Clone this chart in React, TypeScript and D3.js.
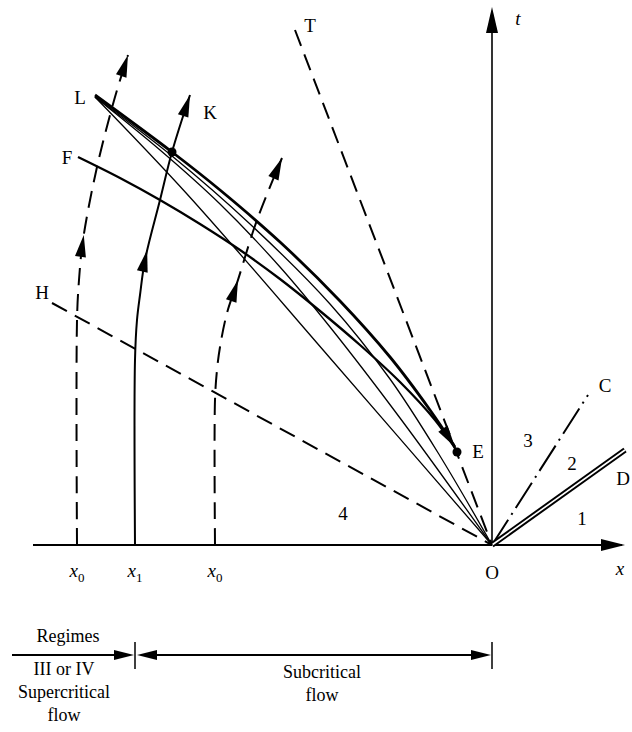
import React, { useEffect, useRef } from 'react';
import * as d3 from 'd3';

const WIDTH = 632;
const HEIGHT = 732;

type Pt = [number, number];

// particle paths (x, t), O at the origin
const pathX0Left: Pt[] = [[-4.15, 0], [-4.15, 2.25], [-4.13, 2.65], [-4.09, 3.05], [-3.95, 3.78], [-3.77, 4.48], [-3.64, 4.9]];
const pathX1: Pt[] = [[-3.57, 0], [-3.57, 1.85], [-3.55, 2.25], [-3.52, 2.5], [-3.47, 2.85], [-3.32, 3.45], [-3.2, 3.93], [-3.02, 4.5]];
const pathX0Right: Pt[] = [[-2.77, 0], [-2.77, 1.45], [-2.75, 1.75], [-2.72, 1.98], [-2.65, 2.32], [-2.55, 2.62], [-2.35, 3.25], [-2.1, 3.87]];
// t at which the mid arrows sit
const midArrowT = [3.1, 2.95, 2.65];

// shock L -> E and curve F -> E
const shockLE: Pt[] = [[-3.97, 4.5], [-3.2, 3.93], [-2.72, 3.55], [-2.12, 3.03], [-1.52, 2.44], [-1.02, 1.88], [-0.62, 1.35], [-0.37, 0.98]];
const curveF: Pt[] = [[-4.14, 3.88], [-3.72, 3.67], [-3.32, 3.45], [-2.92, 3.21], [-2.52, 2.95], [-2.12, 2.66], [-1.72, 2.34], [-1.32, 2.0], [-0.92, 1.63], [-0.57, 1.25], [-0.37, 0.97]];

// characteristics from L to O
const charA: Pt[] = [[-3.97, 4.48], [-3.2, 3.89], [-2.42, 3.21], [-1.62, 2.41], [-1.02, 1.66], [-0.52, 0.89], [0, 0]];
const charB: Pt[] = [[-3.97, 4.48], [-3.32, 3.95], [-2.72, 3.41], [-2.12, 2.78], [-1.62, 2.18], [-0.92, 1.27], [0, 0]];
const charC: Pt[] = [[-3.97, 4.48], [-3.05, 3.51], [-1.62, 1.87], [0, 0]];

// straight rays through O
const rayH: Pt[] = [[-4.4, 2.42], [0, 0]];
const rayT: Pt[] = [[-1.97, 5.15], [0, 0]];
const rayC: Pt[] = [[0, 0], [0.96, 1.5]];
const rayD: Pt[] = [[0, 0], [1.33, 0.95]];

const pointK: Pt = [-3.2, 3.93];
const pointE: Pt = [-0.35, 0.93];

const letters: { text: string; x: number; t: number; italic?: boolean }[] = [
  { text: 'L', x: -4.12, t: 4.48 },
  { text: 'F', x: -4.25, t: 3.88 },
  { text: 'H', x: -4.5, t: 2.53 },
  { text: 'K', x: -2.82, t: 4.33 },
  { text: 'T', x: -1.82, t: 5.2 },
  { text: 't', x: 0.26, t: 5.27, italic: true },
  { text: 'E', x: -0.14, t: 0.94 },
  { text: 'C', x: 1.13, t: 1.6 },
  { text: 'D', x: 1.31, t: 0.67 },
  { text: '3', x: 0.36, t: 1.05 },
  { text: '2', x: 0.8, t: 0.82 },
  { text: '1', x: 0.9, t: 0.27 },
  { text: '4', x: -1.49, t: 0.32 },
  { text: 'O', x: 0, t: -0.27 },
  { text: 'x', x: 1.28, t: -0.23, italic: true },
];
const startLabels: { sub: string; x: number }[] = [
  { sub: '0', x: -4.15 },
  { sub: '1', x: -3.57 },
  { sub: '0', x: -2.77 },
];

const FONT = '"Liberation Serif", "DejaVu Serif", serif';

function head(g: any, tip: Pt, from: Pt, len = 20, half = 5) {
  const dx = tip[0] - from[0];
  const dy = tip[1] - from[1];
  const d = Math.hypot(dx, dy) || 1;
  const ux = dx / d;
  const uy = dy / d;
  const bx = tip[0] - ux * len;
  const by = tip[1] - uy * len;
  g.append('path')
    .attr('d', `M${tip[0]},${tip[1]}L${bx - uy * half},${by + ux * half}L${bx + uy * half},${by - ux * half}Z`)
    .attr('fill', '#000');
}

function lengthAtY(node: SVGPathElement, py: number) {
  let lo = 0;
  let hi = node.getTotalLength();
  for (let i = 0; i < 40; i++) {
    const m = (lo + hi) / 2;
    if (node.getPointAtLength(m).y > py) lo = m;
    else hi = m;
  }
  return lo;
}

function headAt(g: any, node: SVGPathElement, s: number, len = 20, half = 5) {
  const p = node.getPointAtLength(s);
  const q = node.getPointAtLength(Math.max(0, s - 4));
  head(g, [p.x, p.y], [q.x, q.y], len, half);
}

export default function App() {
  const ref = useRef<SVGSVGElement>(null);

  useEffect(() => {
    const svg = d3.select(ref.current);
    svg.selectAll('*').remove();
    const x = d3.scaleLinear().domain([-4.6, 1.4]).range([32, 632]);
    const y = d3.scaleLinear().domain([0, 5.4]).range([545, 5]);
    const curve = d3.line<Pt>().x(d => x(d[0])).y(d => y(d[1])).curve(d3.curveCatmullRom.alpha(0.5));
    const straight = d3.line<Pt>().x(d => x(d[0])).y(d => y(d[1]));
    const g = svg.append('g');

    // axes
    g.append('line').attr('x1', x(-4.59)).attr('x2', x(1.3)).attr('y1', y(0)).attr('y2', y(0))
      .attr('stroke', '#000').attr('stroke-width', 2);
    head(g, [x(1.33), y(0)], [x(0), y(0)], 24, 6);
    g.append('line').attr('x1', x(0)).attr('x2', x(0)).attr('y1', y(0)).attr('y2', y(5.2))
      .attr('stroke', '#000').attr('stroke-width', 1.6);
    head(g, [x(0), y(5.38)], [x(0), y(0)], 26, 6);

    // dashed rays
    [rayH, rayT].forEach(r => {
      g.append('path').attr('d', straight(r)).attr('fill', 'none').attr('stroke', '#000')
        .attr('stroke-width', 2).attr('stroke-dasharray', '17,9');
    });
    g.append('path').attr('d', straight(rayC)).attr('fill', 'none').attr('stroke', '#000')
      .attr('stroke-width', 2).attr('stroke-dasharray', '30,6,2,6');
    // double line OD
    g.append('path').attr('d', straight(rayD)).attr('stroke', '#000').attr('stroke-width', 5.5);
    g.append('path').attr('d', straight(rayD)).attr('stroke', '#fff').attr('stroke-width', 1.6);

    // characteristics
    [charA, charB, charC].forEach(c => {
      g.append('path').attr('d', curve(c)).attr('fill', 'none').attr('stroke', '#000').attr('stroke-width', 1.3);
    });
    g.append('path').attr('d', curve(curveF)).attr('fill', 'none').attr('stroke', '#000').attr('stroke-width', 2.3);
    const le = g.append('path').attr('d', curve(shockLE)).attr('fill', 'none').attr('stroke', '#000')
      .attr('stroke-width', 2.8);
    const leNode = le.node() as SVGPathElement;
    headAt(g, leNode, leNode.getTotalLength(), 22, 5.5);

    // particle paths
    const paths = [
      { pts: pathX0Left, dash: '17,9' },
      { pts: pathX1, dash: null },
      { pts: pathX0Right, dash: '17,9' },
    ];
    paths.forEach((p, i) => {
      const sel = g.append('path').attr('d', curve(p.pts)).attr('fill', 'none').attr('stroke', '#000')
        .attr('stroke-width', 2);
      if (p.dash) sel.attr('stroke-dasharray', p.dash);
      const node = sel.node() as SVGPathElement;
      headAt(g, node, node.getTotalLength(), 22, 5.5);
      headAt(g, node, lengthAtY(node, y(midArrowT[i])), 22, 5.5);
    });

    // points
    [pointK, pointE].forEach(p => {
      g.append('circle').attr('cx', x(p[0])).attr('cy', y(p[1])).attr('r', 4.5).attr('fill', '#000');
    });

    // letters
    letters.forEach(l => {
      g.append('text').attr('x', x(l.x)).attr('y', y(l.t)).attr('dy', '0.35em')
        .attr('text-anchor', 'middle').attr('font-family', FONT).attr('font-size', 19)
        .attr('font-style', l.italic ? 'italic' : 'normal').text(l.text);
    });
    startLabels.forEach(l => {
      const t = g.append('text').attr('x', x(l.x)).attr('y', y(-0.25)).attr('dy', '0.35em')
        .attr('text-anchor', 'middle').attr('font-family', FONT).attr('font-size', 19);
      t.append('tspan').attr('font-style', 'italic').text('x');
      t.append('tspan').attr('font-size', 13).attr('dy', 5).text(l.sub);
    });

    // regime bar below
    const by = 655;
    const xb = x(-3.57);
    const xo = x(0);
    g.append('line').attr('x1', 12).attr('x2', xb - 6).attr('y1', by).attr('y2', by).attr('stroke', '#000').attr('stroke-width', 1.8);
    head(g, [xb - 1, by], [12, by], 20, 5);
    g.append('line').attr('x1', xb + 6).attr('x2', xo - 6).attr('y1', by).attr('y2', by).attr('stroke', '#000').attr('stroke-width', 1.8);
    head(g, [xb + 2, by], [xo, by], 20, 5);
    head(g, [xo - 1, by], [xb, by], 20, 5);
    [xb, xo].forEach(v => {
      g.append('line').attr('x1', v).attr('x2', v).attr('y1', by - 13).attr('y2', by + 14).attr('stroke', '#000').attr('stroke-width', 1.5);
    });
    const notes: [string, number, number][] = [
      ['Regimes', 68, 642],
      ['III or IV', 64, 675],
      ['Supercritical', 64, 698],
      ['flow', 64, 721],
      ['Subcritical', 322, 678],
      ['flow', 322, 701],
    ];
    notes.forEach(([s, nx, ny]) => {
      g.append('text').attr('x', nx).attr('y', ny).attr('text-anchor', 'middle')
        .attr('font-family', FONT).attr('font-size', 18).text(s);
    });
  }, []);

  return (
    <svg
      ref={ref}
      width={WIDTH}
      height={HEIGHT}
      style={{ position: 'absolute', left: 0, top: 0, background: '#fff' }}
    />
  );
}
